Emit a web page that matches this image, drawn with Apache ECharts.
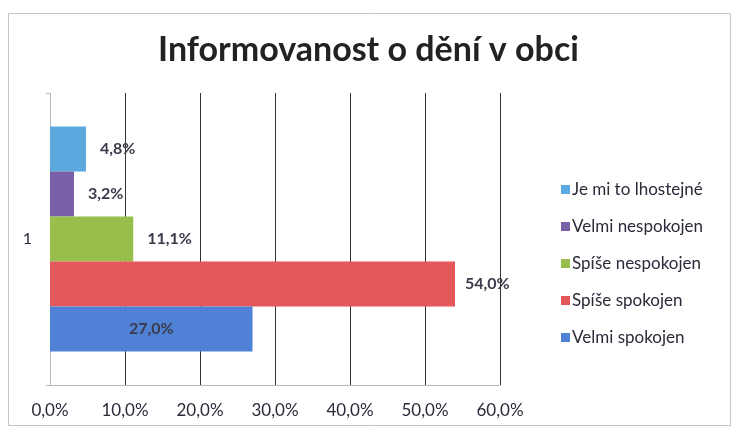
<!DOCTYPE html>
<html>
<head>
<meta charset="utf-8">
<script src="https://cdn.jsdelivr.net/npm/echarts@6/dist/echarts.min.js"></script>
<style>
  html, body { margin: 0; padding: 0; background: #fff; }
  #chart { width: 737px; height: 439px; }
</style>
</head>
<body>
<div id="chart"></div>
<script>
// data (top bar first)
var categories = ['1']
var seriesNames = ['Je mi to lhostejné', 'Velmi nespokojen', 'Spíše nespokojen', 'Spíše spokojen', 'Velmi spokojen']
var seriesValues = [[4.8], [3.2], [11.1], [54.0], [27.0]]
var seriesColors = ['#5ba9df', '#7a60a8', '#98bf4b', '#e4575b', '#4f82d6']
var xTicks = [0, 10, 20, 30, 40, 50, 60]

var chart = echarts.init(document.getElementById('chart'))

function pct(v) {
  return v.toFixed(1).replace('.', ',') + '%'
}

var series = seriesNames.map(function (name, i) {
  return {
    name: name,
    type: 'bar',
    barGap: 0,
    barCategoryGap: '23%',
    itemStyle: { color: seriesColors[i] },
    label: {
      show: true,
      position: name === 'Velmi spokojen' ? 'inside' : 'right',
      distance: name === 'Spíše spokojen' ? 10 : 14,
      color: '#3a3a4a',
      fontFamily: 'Lato',
      fontWeight: 'bold',
      fontSize: 16,
      formatter: function (p) { return pct(p.value) }
    },
    data: seriesValues[i]
  }
})

chart.setOption({
  animation: false,
  title: {
    text: 'Informovanost o dění v obci',
    left: 'center',
    top: 28,
    textStyle: {
      fontFamily: 'Lato',
      fontWeight: 'bold',
      fontSize: 34,
      color: '#222'
    }
  },
  legend: {
    orient: 'vertical',
    left: 556,
    top: 176,
    itemGap: 20,
    itemWidth: 9,
    itemHeight: 9,
    icon: 'rect',
    data: seriesNames,
    textStyle: {
      fontFamily: 'Lato',
      fontSize: 17,
      color: '#2a2a3a',
      padding: [0, 0, 0, -3]
    }
  },
  grid: {
    left: 50,
    right: 237,
    top: 93,
    bottom: 54
  },
  xAxis: {
    type: 'value',
    min: xTicks[0],
    max: xTicks[xTicks.length - 1],
    interval: 10,
    axisLine: { show: true, lineStyle: { color: '#bbb' } },
    axisTick: { show: false },
    splitLine: { show: true, lineStyle: { color: '#333', width: 1 } },
    axisLabel: {
      margin: 17,
      fontFamily: 'Lato',
      fontSize: 17,
      color: '#2a2a3a',
      formatter: function (v) { return pct(v) }
    }
  },
  yAxis: {
    type: 'category',
    data: categories,
    axisLine: { show: true, lineStyle: { color: '#bbb' } },
    axisTick: { show: true, length: 4, lineStyle: { color: '#bbb' } },
    axisLabel: {
      margin: 18,
      fontFamily: 'Lato',
      fontSize: 16,
      color: '#2a2a3a'
    }
  },
  graphic: [{
    type: 'rect',
    shape: { x: 8.5, y: 13.5, width: 722, height: 412 },
    style: { fill: 'none', stroke: '#c4c4c4', lineWidth: 1 },
    silent: true,
    z: -1
  }],
  series: series
})
</script>
</body>
</html>
